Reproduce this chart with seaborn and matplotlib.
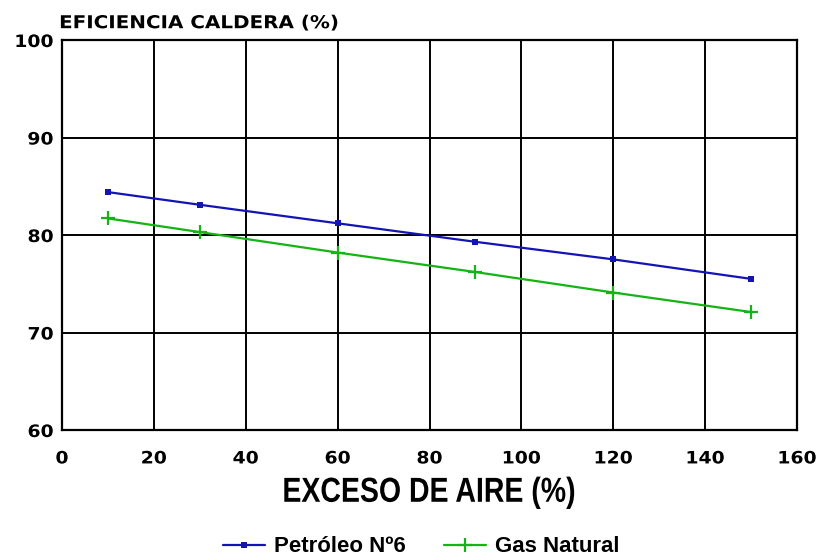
import matplotlib
matplotlib.use("Agg")
import matplotlib.pyplot as plt
import matplotlib.patheffects as pe
from matplotlib.transforms import Affine2D
import seaborn as sns
import pandas as pd

exceso_aire = [10, 30, 60, 90, 120, 150]
petroleo = [84.4, 83.1, 81.2, 79.3, 77.5, 75.5]
gas_natural = [81.7, 80.3, 78.2, 76.2, 74.1, 72.1]
series_names = ["Petróleo Nº6", "Gas Natural"]
x_ticks = [0, 20, 40, 60, 80, 100, 120, 140, 160]
y_ticks = [60, 70, 80, 90, 100]


class Stretch(pe.AbstractPathEffect):
    """Scale text horizontally around an anchor (left/center/right)."""
    def __init__(self, sx, anchor="center"):
        super().__init__()
        self.sx = sx
        self.anchor = anchor

    def draw_path(self, renderer, gc, tpath, affine, rgbFace=None):
        verts = affine.transform(tpath.vertices)
        if len(verts):
            x0, x1 = verts[:, 0].min(), verts[:, 0].max()
            cx = {"left": x0, "right": x1}.get(self.anchor, 0.5 * (x0 + x1))
            affine = affine + Affine2D().translate(-cx, 0).scale(self.sx, 1).translate(cx, 0)
        renderer.draw_path(gc, tpath, affine, rgbFace)


sns.set_theme(style="white")
plt.rcParams['font.family'] = ['DejaVu Sans']
plt.rcParams['font.weight'] = 'bold'
plt.rcParams['text.color'] = 'black'

df_pet = pd.DataFrame({"x": exceso_aire, "y": petroleo})
df_gas = pd.DataFrame({"x": exceso_aire, "y": gas_natural})

fig = plt.figure(figsize=(8.17, 5.6), dpi=100)
ax = fig.add_axes([62/817, 1-430/560, (797-62)/817, (430-40)/560])

blue = "#1414B4"
green = "#14B414"
sns.lineplot(data=df_pet, x="x", y="y", color=blue, marker="s", markersize=4,
             linewidth=1.6, ax=ax, label=series_names[0], markeredgewidth=0,
             markerfacecolor=blue, markeredgecolor=blue)
sns.lineplot(data=df_gas, x="x", y="y", color=green, marker="+", markersize=10,
             linewidth=1.6, ax=ax, label=series_names[1], markeredgewidth=1.6,
             markeredgecolor=green)

ax.set_xlim(0, 160)
ax.set_ylim(60, 100)
ax.set_xticks(x_ticks)
ax.set_yticks(y_ticks)
ax.grid(True, color="black", linewidth=1.4)
for s in ax.spines.values():
    s.set_color("black")
    s.set_linewidth(1.6)
    s.set_visible(True)
ax.tick_params(axis="both", length=0, labelsize=12.3, colors="black")
ax.tick_params(axis="x", pad=14)
ax.tick_params(axis="y", pad=6)
for lab in ax.get_xticklabels():
    lab.set_fontweight("bold")
    lab.set_path_effects([Stretch(1.1, "center")])
for lab in ax.get_yticklabels():
    lab.set_fontweight("bold")
    lab.set_path_effects([Stretch(1.1, "right")])

xl = ax.set_xlabel("EXCESO DE AIRE (%)", fontsize=25, fontweight="bold", labelpad=6,
                   family=["Liberation Sans", "DejaVu Sans"], color="black")
xl.set_path_effects([Stretch(0.82, "center")])
ax.set_ylabel("")
tt = ax.text(-0.004, 1.02, "EFICIENCIA CALDERA (%)", transform=ax.transAxes, fontsize=12.8,
             fontweight="bold", ha="left", va="bottom", family=["DejaVu Sans"], color="black")
tt.set_path_effects([Stretch(1.12, "left")])

handles, labels = ax.get_legend_handles_labels()
leg = ax.legend(handles, labels, loc="center", bbox_to_anchor=(421/817, 1-547/560),
                bbox_transform=fig.transFigure, ncol=2, frameon=False,
                prop={"weight": "bold", "size": 16, "family": ["Liberation Sans", "DejaVu Sans"]},
                handlelength=1.9, handletextpad=0.4, columnspacing=1.7)
for t in leg.get_texts():
    t.set_color("black")

fig.savefig("out.png", dpi=100)
